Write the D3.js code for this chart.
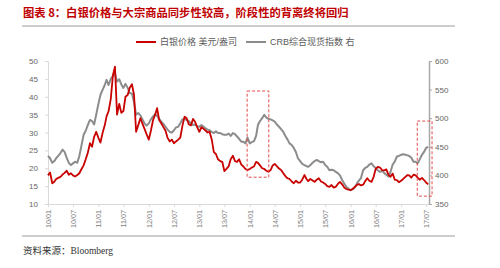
<!DOCTYPE html>
<html>
<head>
<meta charset="utf-8">
<script src="https://cdn.jsdelivr.net/npm/d3@7"></script>
<style>
  body { margin: 0; background: #fff; }
  svg { display: block; font-family: "Liberation Sans", "Noto Sans CJK SC", sans-serif; }
</style>
</head>
<body>
<div id="chart"></div>
<script>
// Half-month observations starting 2010-01-01 (1st and 16th of each month)
var startYear = 2010;

// Silver price, USD/oz (left axis)
var silver = [
  18.0, 18.8, 15.8, 16.2, 17.0, 17.3, 17.6, 18.2, 18.7, 19.3, 18.2, 18.6,
  18.0, 17.7, 18.1, 18.6, 19.8, 20.8, 22.5, 24.3, 27.0, 26.0, 28.8, 30.2,
  28.5, 27.2, 30.0, 32.0, 34.5, 36.0, 39.5, 46.0, 48.4, 35.0, 38.0, 35.5,
  36.0, 40.0, 40.5, 42.5, 43.5, 40.5, 30.2, 32.0, 34.0, 32.5, 31.0, 29.5,
  28.0, 30.5, 33.5, 35.0, 36.8, 33.5, 32.5, 31.5, 30.5, 28.5, 27.5, 28.0,
  27.0, 27.5, 28.0, 28.6, 32.0, 34.4, 34.0, 32.3, 32.0, 33.8, 33.0, 31.5,
  30.2, 31.5, 31.0, 30.5, 30.0, 30.2, 28.0, 24.5, 24.0, 22.5, 22.0, 21.8,
  19.2, 19.8, 20.5, 22.5, 23.5, 22.0, 21.8, 22.5, 21.0, 20.5, 19.8, 19.5,
  19.8, 20.2, 20.5, 21.8, 21.5, 20.8, 20.0, 19.8, 19.3, 19.0, 19.5, 20.8,
  21.2, 20.6, 19.9, 19.5, 18.6, 17.8, 17.2, 17.0, 16.3, 15.8, 16.5, 16.0,
  16.0, 16.8, 18.1, 17.0, 16.4, 17.0, 16.6, 16.2, 16.8, 17.2, 16.3, 16.0,
  15.6, 15.0, 14.8, 15.3, 14.6, 14.8, 15.6, 16.2, 15.5, 14.6, 14.2, 14.0,
  13.9, 14.2, 14.8, 15.3, 15.6, 15.2, 15.4, 16.4, 17.2, 16.5, 16.2, 17.6,
  19.8, 20.4, 20.2, 19.5, 19.4, 19.7, 18.2, 17.6, 18.5, 16.8, 16.7, 16.1,
  16.5, 17.0, 17.6, 18.1, 18.0, 17.4, 18.2, 18.0, 17.4, 16.8, 17.3, 16.7,
  16.0, 15.5
];

// CRB spot index (right axis)
var crb = [
  434, 430, 422, 425, 430, 434, 439, 445, 441, 431, 422, 418,
  421, 424, 422, 434, 453, 471, 478, 488, 497, 495, 489, 506,
  525, 541, 550, 558, 567, 558, 569, 574, 578, 564, 568, 559,
  553, 560, 553, 544, 543, 528, 506, 509, 505, 498, 491, 487,
  491, 498, 503, 507, 504, 499, 494, 490, 485, 480, 476, 475,
  479, 484, 485, 491, 498, 499, 497, 495, 491, 488, 489, 486,
  485, 488, 485, 482, 480, 479, 476, 474, 477, 474, 474, 472,
  471, 471, 473, 469, 474, 472, 468, 464, 459, 459, 456, 466,
  456, 458, 460, 469, 488, 495, 500, 506, 501, 499, 498, 496,
  494, 489, 485, 481, 476, 469, 463, 456, 453, 448, 441, 430,
  425, 420, 418, 416, 415, 418, 422, 425, 427, 425, 423, 424,
  418, 415, 409, 410, 409, 406, 404, 400, 392, 386, 380, 377,
  374, 376, 379, 386, 391, 395, 409, 413, 415, 419, 421, 416,
  413, 409, 406, 408, 404, 401, 398, 406, 419, 424, 433, 434,
  436, 437, 436, 435, 434, 431, 424, 424, 421, 428, 436, 441,
  448, 450
];

var leftTicks = [10, 15, 20, 25, 30, 35, 40, 45, 50];
var rightTicks = [350, 400, 450, 500, 550, 600];
var seriesNames = ["白银价格 美元/盎司", "CRB综合现货指数 右"];
var titleText = "图表 8：白银价格与大宗商品同步性较高，阶段性的背离终将回归";
var sourceText = "资料来源：Bloomberg";

// Highlighted periods: [start, end, top, bottom] in left-axis units
var boxes = [
  ["2013-12-13", "2014-05-19", 41.6, 17.5],
  ["2017-04-28", "2017-08-13", 33.2, 12.2]
];

var dates = silver.map(function(d, i) {
  return new Date(startYear, Math.floor(i / 2), i % 2 ? 16 : 1);
});

var W = 500, H = 268;
var margin = {left: 48, right: 71, top: 61, bottom: 64};

var svg = d3.select("#chart").append("svg")
  .attr("width", W)
  .attr("height", H);

// Title and separator lines
svg.append("text")
  .attr("x", 23).attr("y", 17)
  .attr("fill", "#c00000")
  .attr("font-size", 11.3)
  .attr("font-weight", "bold")
  .attr("font-family", "Noto Sans CJK SC")
  .text(titleText);

svg.append("line")
  .attr("x1", 22).attr("x2", 455).attr("y1", 26).attr("y2", 26)
  .attr("stroke", "#9a9a9a").attr("stroke-width", 1);

svg.append("line")
  .attr("x1", 22).attr("x2", 455).attr("y1", 236).attr("y2", 236)
  .attr("stroke", "#9a9a9a").attr("stroke-width", 1);

svg.append("text")
  .attr("x", 23).attr("y", 254)
  .attr("fill", "#333")
  .attr("font-size", 9.5)
  .attr("font-family", "Liberation Serif, Noto Sans CJK SC")
  .text(sourceText);

// Scales
var x = d3.scaleTime()
  .domain([new Date(2010, 0, 1), new Date(2017, 6, 22)])
  .range([margin.left, W - margin.right]);

var yL = d3.scaleLinear().domain([10, 50]).range([H - margin.bottom, margin.top]);
var yR = d3.scaleLinear().domain([350, 600]).range([H - margin.bottom, margin.top]);

// Axes
var xTicks = d3.timeMonth.every(6).range(new Date(2010, 0, 1), new Date(2017, 7, 1));

var gx = svg.append("g")
  .attr("transform", "translate(0," + (H - margin.bottom) + ")")
  .call(d3.axisBottom(x).tickValues(xTicks).tickFormat(d3.timeFormat("%y/%m")).tickSize(3).tickSizeOuter(0));
gx.select(".domain").attr("stroke", "#d9d9d9");
gx.selectAll(".tick line").attr("stroke", "#d9d9d9");
gx.selectAll(".tick text")
  .attr("fill", "#808080")
  .attr("font-size", 7.2)
  .attr("transform", "rotate(-90)")
  .attr("text-anchor", "end")
  .attr("x", -6).attr("y", 0).attr("dy", "0.35em");

var gl = svg.append("g")
  .attr("transform", "translate(" + margin.left + ",0)")
  .call(d3.axisLeft(yL).tickValues(leftTicks).tickSize(3).tickSizeOuter(0).tickPadding(7));
gl.select(".domain").attr("stroke", "#d9d9d9");
gl.selectAll(".tick line").attr("stroke", "#d9d9d9");
gl.selectAll(".tick text").attr("fill", "#666").attr("font-size", 8);

var gr = svg.append("g")
  .attr("transform", "translate(" + (W - margin.right) + ",0)")
  .call(d3.axisRight(yR).tickValues(rightTicks).tickSize(3).tickSizeOuter(0).tickPadding(3));
gr.select(".domain").attr("stroke", "#a8a8a8").attr("stroke-width", 1.5);
gr.selectAll(".tick line").attr("stroke", "#a8a8a8");
gr.selectAll(".tick text").attr("fill", "#666").attr("font-size", 8);

// Lines
var lineL = d3.line().x(function(d, i) { return x(dates[i]); }).y(function(d) { return yL(d); });
var lineR = d3.line().x(function(d, i) { return x(dates[i]); }).y(function(d) { return yR(d); });

svg.append("path")
  .datum(crb)
  .attr("d", lineR)
  .attr("fill", "none")
  .attr("stroke", "#8c8c8c")
  .attr("stroke-width", 2)
  .attr("stroke-linejoin", "round");

svg.append("path")
  .datum(silver)
  .attr("d", lineL)
  .attr("fill", "none")
  .attr("stroke", "#c80000")
  .attr("stroke-width", 1.8)
  .attr("stroke-linejoin", "round");

// Dashed highlight boxes
var parse = d3.timeParse("%Y-%m-%d");
svg.selectAll(".box")
  .data(boxes)
  .enter().append("rect")
  .attr("class", "box")
  .attr("x", function(d) { return x(parse(d[0])); })
  .attr("y", function(d) { return yL(d[2]); })
  .attr("width", function(d) { return x(parse(d[1])) - x(parse(d[0])); })
  .attr("height", function(d) { return yL(d[3]) - yL(d[2]); })
  .attr("fill", "none")
  .attr("stroke", "#e34a4a")
  .attr("stroke-width", 1)
  .attr("stroke-dasharray", "3,2");

// Legend
var legend = [
  {name: seriesNames[0], color: "#c80000", x: 136},
  {name: seriesNames[1], color: "#8c8c8c", x: 246}
];
var lg = svg.selectAll(".legend")
  .data(legend)
  .enter().append("g")
  .attr("class", "legend")
  .attr("transform", function(d) { return "translate(" + d.x + ",42)"; });
lg.append("line")
  .attr("x1", 0).attr("x2", 20).attr("y1", 0).attr("y2", 0)
  .attr("stroke", function(d) { return d.color; })
  .attr("stroke-width", 2);
lg.append("text")
  .attr("x", 24).attr("y", 0).attr("dy", "0.35em")
  .attr("font-size", 9)
  .attr("fill", "#595959")
  .text(function(d) { return d.name; });
</script>
</body>
</html>
